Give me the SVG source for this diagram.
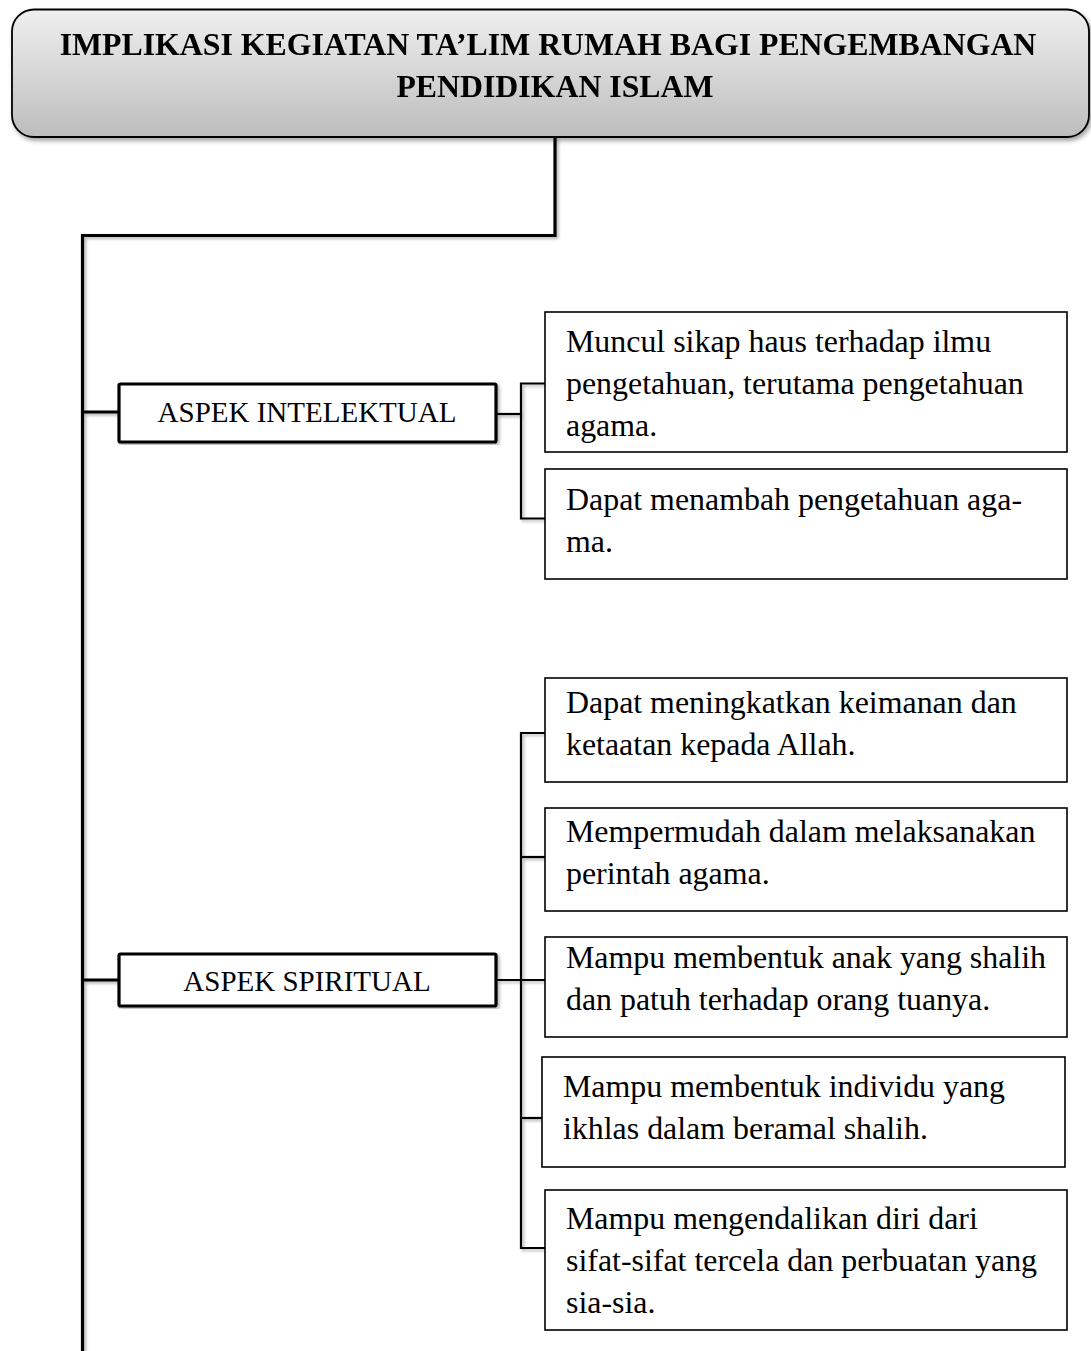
<svg xmlns="http://www.w3.org/2000/svg" width="1091" height="1351" viewBox="0 0 1091 1351">
<defs>
<linearGradient id="tg" x1="0" y1="0" x2="0" y2="1">
<stop offset="0" stop-color="#efefef"/>
<stop offset="1" stop-color="#bdbdbd"/>
</linearGradient>
<filter id="sh" x="-5%" y="-5%" width="110%" height="120%">
<feDropShadow dx="2" dy="3" stdDeviation="2" flood-color="#000" flood-opacity="0.35"/>
</filter>
<filter id="lsh" x="-50%" y="-5%" width="200%" height="110%">
<feDropShadow dx="2" dy="2" stdDeviation="1.5" flood-color="#000" flood-opacity="0.3"/>
</filter>
</defs>
<style>
.t{font-family:"Liberation Serif","Times New Roman",serif;fill:#000}
.title{font-size:31.8px;font-weight:bold;text-anchor:middle}
.asp{font-size:29px;text-anchor:middle}
.bt{font-size:31.9px}
.box{fill:#fff;stroke:#000;stroke-width:1.6}
.abox{fill:#fff;stroke:#000;stroke-width:3.2}
.trunk{fill:none;stroke:#000;stroke-width:3.2}
.br{fill:none;stroke:#000;stroke-width:2.2}
</style>
<rect width="1091" height="1351" fill="#fff"/>

<g id="connectors" filter="url(#lsh)">
<path class="trunk" d="M555,137 V235.5 H82.5 V1351"/>
<path class="trunk" d="M82.5,412 H119"/>
<path class="trunk" d="M82.5,980 H119"/>
<path class="br" d="M497,414 H521"/>
<path class="br" d="M545,383.5 H521 V518.5 H545"/>
<path class="br" d="M497,980 H545"/>
<path class="br" d="M545,733 H521 V1248 H545"/>
<path class="br" d="M521,857 H545"/>
<path class="br" d="M521,1118 H542"/>
</g>

<g id="title" filter="url(#sh)">
<rect x="12" y="9.5" width="1077" height="127.5" rx="22" fill="url(#tg)" stroke="#000" stroke-width="1.8"/>
<text class="t title" x="548" y="55">IMPLIKASI KEGIATAN TA’LIM RUMAH BAGI PENGEMBANGAN</text>
<text class="t title" x="555" y="97">PENDIDIKAN ISLAM</text>
</g>

<g id="aspek-intelektual">
<rect class="abox" x="119" y="384" width="377" height="58" rx="1.5" filter="url(#lsh)"/>
<text class="t asp" x="307" y="422">ASPEK INTELEKTUAL</text>
</g>

<g id="aspek-spiritual">
<rect class="abox" x="119" y="954" width="377" height="52" rx="1.5" filter="url(#lsh)"/>
<text class="t asp" x="307" y="991">ASPEK SPIRITUAL</text>
</g>

<g id="int-1">
<rect class="box" x="545" y="312" width="522" height="140"/>
<text class="t bt" x="566" y="352">Muncul sikap haus terhadap ilmu</text>
<text class="t bt" x="566" y="394">pengetahuan, terutama pengetahuan</text>
<text class="t bt" x="566" y="436">agama.</text>
</g>

<g id="int-2">
<rect class="box" x="545" y="469" width="522" height="110"/>
<text class="t bt" x="566" y="510">Dapat menambah pengetahuan aga-</text>
<text class="t bt" x="566" y="552">ma.</text>
</g>

<g id="spi-1">
<rect class="box" x="545" y="678" width="522" height="104"/>
<text class="t bt" x="566" y="713">Dapat meningkatkan keimanan dan</text>
<text class="t bt" x="566" y="755">ketaatan kepada Allah.</text>
</g>

<g id="spi-2">
<rect class="box" x="545" y="808" width="522" height="103"/>
<text class="t bt" x="566" y="842">Mempermudah dalam melaksanakan</text>
<text class="t bt" x="566" y="884">perintah agama.</text>
</g>

<g id="spi-3">
<rect class="box" x="545" y="937" width="522" height="100"/>
<text class="t bt" x="566" y="968">Mampu membentuk anak yang shalih</text>
<text class="t bt" x="566" y="1010">dan patuh terhadap orang tuanya.</text>
</g>

<g id="spi-4">
<rect class="box" x="542" y="1057" width="523" height="110"/>
<text class="t bt" x="563" y="1097">Mampu membentuk individu yang</text>
<text class="t bt" x="563" y="1139">ikhlas dalam beramal shalih.</text>
</g>

<g id="spi-5">
<rect class="box" x="545" y="1190" width="522" height="140"/>
<text class="t bt" x="566" y="1229">Mampu mengendalikan diri dari</text>
<text class="t bt" x="566" y="1271">sifat-sifat tercela dan perbuatan yang</text>
<text class="t bt" x="566" y="1313">sia-sia.</text>
</g>
</svg>
